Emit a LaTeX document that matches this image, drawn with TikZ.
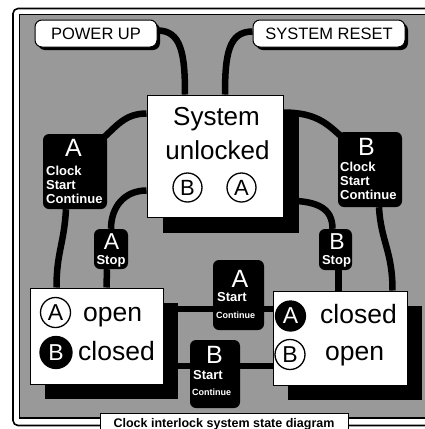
\documentclass[tikz,border=0pt]{standalone}
\usepackage{fontspec}
\setmainfont{Liberation Sans}
\usetikzlibrary{calc,shadows}
\definecolor{bggray}{RGB}{153,153,153}

\begin{document}
\begin{tikzpicture}[x=1pt,y=-1pt,
  edgeline/.style={line width=1.6pt},
  statebox/.style={draw,fill=white,line width=1pt,inner sep=0,
    drop shadow={shadow xshift=#1,shadow yshift=-#1,opacity=1,fill=black}},
  keybox/.style={draw,fill=white,line width=1pt,rounded corners=7pt,inner sep=0,
    minimum width=#1,minimum height=27,font=\fontsize{16.5}{18}\selectfont,
    drop shadow={shadow xshift=3pt,shadow yshift=-3pt,opacity=1,fill=black}},
  tagbox/.style={fill=black,rounded corners=6pt,inner sep=0},
  wire/.style={line width=6.5pt},
  openring/.style={circle,draw,line width=1.3pt,minimum size=#1,inner sep=0,font=\fontsize{23}{23}\selectfont},
  fullring/.style={openring=#1,fill=black,text=white},
  word/.style={inner sep=0,anchor=base west,font=\fontsize{26.5}{30}\selectfont},
  letter/.style={inner sep=0,anchor=base,text=white,font=\fontsize{25}{25}\selectfont},
  small/.style={inner sep=0,text=white,align=left,font=\bfseries\fontsize{13}{14}\selectfont}]
  \clip (0,0) rectangle (425,429);
  % double frame
  \draw[edgeline,fill=white,rounded corners=5pt] (13,8.5) rectangle (445,425.5);
  \draw[edgeline,fill=bggray] (19.5,14.5) rectangle (439,418);
  % boxes
  \node[keybox=122] (pwr) at (96,33.5) {POWER UP};
  \node[keybox=152] (rst) at (329,33.5) {SYSTEM RESET};
  \node[statebox=15.5pt,minimum width=136,minimum height=122] (sys) at (215,156) {};
  \node[statebox=14.5pt,minimum width=133,minimum height=96] (lbox) at (96.5,336) {};
  \node[statebox=14.5pt,minimum width=134,minimum height=94] (rbox) at (340,338) {};
  % tags
  \node[tagbox,minimum width=64,minimum height=75] (aclk) at (75,171.5) {};
  \node[tagbox,minimum width=34,minimum height=40] (astp) at (111,249) {};
  \node[tagbox,minimum width=64,minimum height=75] (bclk) at (370,169.5) {};
  \node[tagbox,minimum width=33,minimum height=41] (bstp) at (335.5,249.5) {};
  \node[tagbox,minimum width=51,minimum height=70] (ast) at (238.5,295) {};
  \node[tagbox,minimum width=50,minimum height=68] (bst) at (215,374) {};
  % wires from the top
  \draw[wire] ($(pwr.east)+(0,-3)$) .. controls +(24,0) and +(0,-40) .. ($(sys.north)+(-30,0)$);
  \draw[wire] ($(rst.west)+(0,-2)$) .. controls +(-24,0) and +(0,-40) .. ($(sys.north)+(10,0)$);
  % A side
  \draw[wire] ($(sys.north west)+(0,19)$) .. controls +(-22,0) and +(14,-12) .. ($(aclk.north east)+(-5,5)$);
  \draw[wire] ($(sys.south west)+(0,-27)$) .. controls +(-22,0) and +(0,-22) .. (astp.north);
  \draw[wire] ($(aclk.south)+(-9,0)$) .. controls +(-2,35) and +(0,-35) .. ($(lbox.north west)+(27,0)$);
  \draw[wire] ($(astp.south)+(-4,0)$) -- ($(lbox.north west)+(77,0)$);
  % B side
  \draw[wire] ($(sys.north east)+(0,18)$) .. controls +(35,0) and +(-14,-12) .. ($(bclk.north west)+(5,6)$);
  \draw[wire] ($(sys.south east)+(0,-17)$) .. controls +(32,0) and +(0,-22) .. ($(bstp.north)+(-3,0)$);
  \draw[wire] ($(bclk.south)+(9,0)$) .. controls +(2,35) and +(0,-40) .. ($(rbox.north east)+(-15,0)$);
  \draw[wire] ($(bstp.south)+(3,0)$) -- ($(rbox.north west)+(66,0)$);
  % start transitions
  \draw[wire] ($(lbox.east)+(0,-27)$) -- ($(ast.west)+(0,14)$);
  \draw[wire] ($(ast.east)+(0,14)$) -- ($(rbox.west)+(0,-29)$);
  \draw[wire] ($(lbox.east)+(0,30)$) -- ($(bst.west)+(0,-8)$);
  \draw[wire] ($(bst.east)+(0,-8)$) -- ($(rbox.west)+(0,28)$);
  % system unlocked
  \node[inner sep=0,anchor=base,font=\fontsize{26}{30}\selectfont] (sysa) at (216.5,125) {System};
  \node[inner sep=0,anchor=base,font=\fontsize{26}{30}\selectfont] (sysb) at (217.5,159) {unlocked};
  \node[openring=29,font=\fontsize{22}{22}\selectfont] (sysB) at (187.5,187.5) {B};
  \node[openring=29,font=\fontsize{22}{22}\selectfont] (sysA) at (241.5,187.5) {A};
  % A open, B closed
  \node[openring=30] (lA) at (55.5,312.5) {A};
  \node[word] (lAt) at (83,321) {open};
  \node[fullring=32] (lB) at (56,352.5) {B};
  \node[word] (lBt) at (78,360) {closed};
  % A closed, B open
  \node[fullring=30] (rA) at (290.5,316) {A};
  \node[word] (rAt) at (320,323) {closed};
  \node[openring=30] (rB) at (290,354.5) {B};
  \node[word] (rBt) at (325,360) {open};
  % tag texts
  \node[letter] (aclkl) at (73.5,156) {A};
  \node[small,anchor=north west] (aclkt) at (46,165.5) {Clock\\Start\\Continue};
  \node[letter,font=\fontsize{23}{23}\selectfont] (astpl) at (111.5,249.5) {A};
  \node[small,anchor=base] (astpt) at (111,264.5) {Stop};
  \node[letter] (bclkl) at (366.5,155) {B};
  \node[small,anchor=north west] (bclkt) at (340,161.5) {Clock\\Start\\Continue};
  \node[letter,font=\fontsize{23}{23}\selectfont] (bstpl) at (337,249) {B};
  \node[small,anchor=base] (bstpt) at (336.5,264) {Stop};
  \node[letter] (astl) at (240,287) {A};
  \node[small,anchor=base west] (astt) at (217,301) {Start};
  \node[small,anchor=base west,font=\bfseries\fontsize{9}{9}\selectfont] (astc) at (216,318) {Continue};
  \node[letter] (bstl) at (214.5,363) {B};
  \node[small,anchor=base west] (bstt) at (193,379) {Start};
  \node[small,anchor=base west,font=\bfseries\fontsize{9}{9}\selectfont] (bstc) at (192,395) {Continue};
  % caption
  \node[draw,fill=white,line width=1pt,minimum width=248,minimum height=22,anchor=north,
    font=\bfseries\fontsize{12.5}{13}\selectfont] (title) at (224,413) {Clock interlock system state diagram};
\end{tikzpicture}
\end{document}
